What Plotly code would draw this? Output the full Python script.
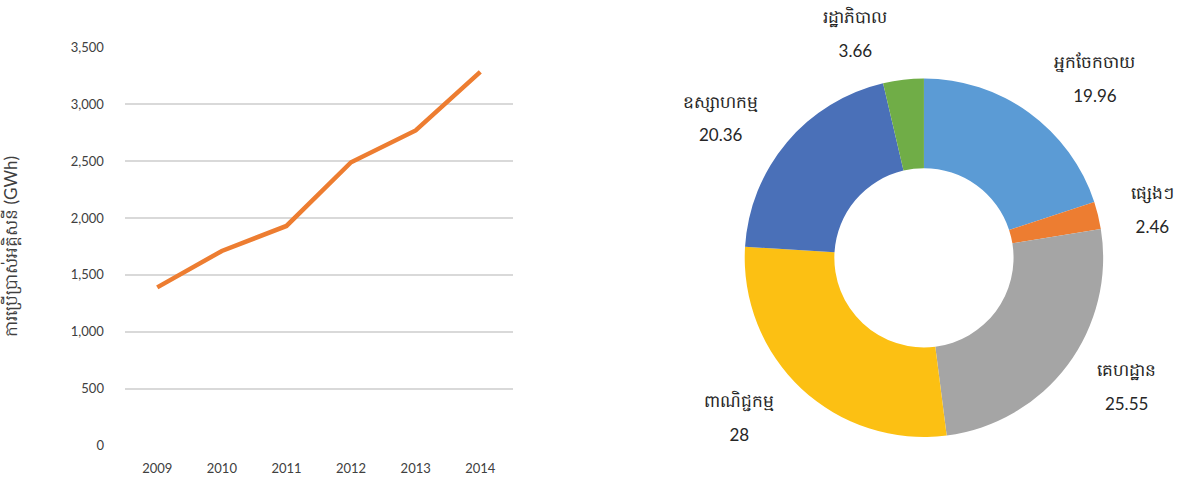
import plotly.graph_objects as go

years = ["2009", "2010", "2011", "2012", "2013", "2014"]
consumption = [1390, 1710, 1930, 2490, 2770, 3285]
y_ticks = [0, 500, 1000, 1500, 2000, 2500, 3000, 3500]

sectors = ["អ្នកចែកចាយ", "ផ្សេងៗ", "គេហដ្ឋាន", "ពាណិជ្ជកម្ម", "ឧស្សាហកម្ម", "រដ្ឋាភិបាល"]
shares = [19.96, 2.46, 25.55, 28, 20.36, 3.66]
colors = ["#5B9BD5", "#ED7D31", "#A5A5A5", "#FCC013", "#4A70B8", "#70AD47"]

y_title = "ការប្រើប្រាស់អគ្គិសនី (GWh)"

FONT = "Lato, 'Noto Sans', sans-serif"

fig = go.Figure()
fig.add_trace(go.Scatter(
    x=years, y=consumption, mode="lines",
    line=dict(color="#ED7D31", width=4.5),
    xaxis="x", yaxis="y", showlegend=False, hoverinfo="x+y",
))
# donut
fig.add_trace(go.Pie(
    labels=sectors, values=shares, hole=0.5, sort=False,
    direction="clockwise", rotation=0,
    marker=dict(colors=colors, line=dict(color="white", width=0)),
    textinfo="none",
    domain=dict(x=[0.642, 0.951], y=[0.092, 0.850]),
    showlegend=False,
))
# transparent outer ring carrying the outside labels a little away from the donut
fig.add_trace(go.Pie(
    labels=sectors, values=shares, hole=0.95, sort=False,
    direction="clockwise", rotation=0,
    marker=dict(colors=["rgba(0,0,0,0)"] * len(shares), line=dict(width=0)),
    texttemplate="<span style='font-size:17px'>%{label}</span><br><span style='font-size:17px'>%{value}</span>",
    textposition="outside",
    textfont=dict(size=26, color="#262626", family=FONT),
    domain=dict(x=[0.625, 0.968], y=[0.052, 0.890]),
    hoverinfo="skip", showlegend=False,
))

fig.update_layout(
    width=1179, height=482,
    margin=dict(l=0, r=0, t=0, b=0),
    paper_bgcolor="white", plot_bgcolor="white",
    font=dict(family=FONT, color="#595959"),
    xaxis=dict(
        domain=[0.1077, 0.4419], type="category", range=[-0.5, 5.5],
        showgrid=False, showline=False, zeroline=False, automargin=False,
        ticks="", tickfont=dict(size=13, color="#404040"),
        ticklabelstandoff=14,
    ),
    yaxis=dict(
        domain=[0.0768, 0.913], range=[0, 3500], automargin=False,
        tickvals=y_ticks, tickformat=",",
        showgrid=True, gridcolor="#D9D9D9", gridwidth=1.5,
        zeroline=False, showline=False, ticks="",
        tickfont=dict(size=13, color="#404040"),
        ticklabelstandoff=20,
        title=dict(text=y_title, font=dict(size=17, color="#404040"), standoff=50),
    ),
)

fig.write_html("out.html")
